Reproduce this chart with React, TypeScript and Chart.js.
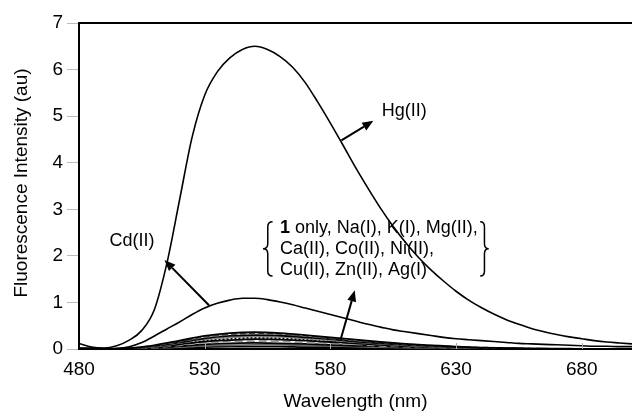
import React, { useEffect, useRef } from 'react';
import { Chart, registerables } from 'chart.js';
Chart.register(...registerables);

// Wavelength grid (nm) for the Hg(II) and Cd(II) spectra
const WAVELENGTHS = [480, 485, 490, 495, 500, 505, 510, 515, 520, 525, 530, 535, 540, 545, 550, 555, 560, 565, 570, 575, 580, 585, 590, 595, 600, 605, 610, 615, 620, 625, 630, 635, 640, 645, 650, 655, 660, 665, 670, 675, 680, 685, 690, 695, 700];
const HG = [0.12, 0.04, 0.02, 0.07, 0.19, 0.4, 0.85, 1.85, 3.2, 4.55, 5.45, 5.95, 6.25, 6.43, 6.5, 6.43, 6.28, 6.05, 5.72, 5.3, 4.85, 4.38, 3.9, 3.45, 3.02, 2.63, 2.28, 1.97, 1.7, 1.46, 1.24, 1.05, 0.89, 0.75, 0.63, 0.53, 0.44, 0.37, 0.31, 0.26, 0.22, 0.18, 0.15, 0.13, 0.11];
const CD = [0.0, 0.0, 0.0, 0.01, 0.05, 0.14, 0.28, 0.43, 0.58, 0.74, 0.88, 0.98, 1.05, 1.09, 1.09, 1.06, 1.01, 0.95, 0.88, 0.81, 0.74, 0.67, 0.6, 0.53, 0.47, 0.41, 0.37, 0.33, 0.29, 0.25, 0.22, 0.2, 0.18, 0.16, 0.14, 0.12, 0.11, 0.1, 0.09, 0.08, 0.07, 0.06, 0.06, 0.05, 0.05];

// Wavelength grid (nm) for the weak spectra (1 only and the other metal ions)
const LOW_WAVELENGTHS = [480, 490, 500, 510, 520, 530, 540, 550, 560, 570, 580, 590, 600, 610, 620, 630, 640, 650, 660, 670, 680, 690, 700];
const ONLY1 = [0.02, 0.01, 0.02, 0.08, 0.18, 0.28, 0.34, 0.36, 0.34, 0.3, 0.25, 0.2, 0.15, 0.11, 0.08, 0.05, 0.03, 0.02, 0.01, 0.01, 0.0, 0.0, 0.0];
const NA = [0.01, 0.0, 0.02, 0.07, 0.16, 0.25, 0.31, 0.33, 0.32, 0.28, 0.23, 0.18, 0.14, 0.1, 0.07, 0.05, 0.03, 0.02, 0.01, 0.0, 0.0, 0.0, 0.0];
const K = [0.01, 0.0, 0.01, 0.06, 0.14, 0.23, 0.28, 0.3, 0.29, 0.25, 0.21, 0.16, 0.12, 0.09, 0.06, 0.04, 0.02, 0.01, 0.01, 0.0, 0.0, 0.0, 0.0];
const MG = [0.0, 0.0, 0.01, 0.05, 0.13, 0.21, 0.25, 0.27, 0.26, 0.23, 0.19, 0.15, 0.11, 0.08, 0.05, 0.03, 0.02, 0.01, 0.0, 0.0, 0.0, 0.0, 0.0];
const CA = [0.0, 0.0, 0.01, 0.05, 0.11, 0.18, 0.22, 0.24, 0.23, 0.2, 0.17, 0.13, 0.1, 0.07, 0.05, 0.03, 0.02, 0.01, 0.0, 0.0, 0.0, 0.0, 0.0];
const CO = [0.0, 0.0, 0.01, 0.04, 0.1, 0.16, 0.19, 0.21, 0.2, 0.18, 0.15, 0.12, 0.09, 0.06, 0.04, 0.03, 0.02, 0.01, 0.0, 0.0, 0.0, 0.0, 0.0];
const NI = [0.0, 0.0, 0.0, 0.03, 0.08, 0.13, 0.16, 0.17, 0.16, 0.14, 0.12, 0.1, 0.07, 0.05, 0.04, 0.02, 0.01, 0.01, 0.0, 0.0, 0.0, 0.0, 0.0];
const CU = [0.0, 0.0, 0.0, 0.02, 0.06, 0.1, 0.12, 0.13, 0.12, 0.11, 0.09, 0.07, 0.06, 0.04, 0.03, 0.02, 0.01, 0.0, 0.0, 0.0, 0.0, 0.0, 0.0];
const ZN = [0.0, 0.0, 0.0, 0.02, 0.04, 0.07, 0.08, 0.09, 0.09, 0.08, 0.07, 0.05, 0.04, 0.03, 0.02, 0.01, 0.01, 0.0, 0.0, 0.0, 0.0, 0.0, 0.0];
const AG = [0.0, 0.0, 0.0, 0.01, 0.02, 0.04, 0.05, 0.05, 0.05, 0.04, 0.04, 0.03, 0.02, 0.02, 0.01, 0.01, 0.0, 0.0, 0.0, 0.0, 0.0, 0.0, 0.0];

const X_TICKS = [480, 530, 580, 630, 680];
const Y_TICKS = [0, 1, 2, 3, 4, 5, 6, 7];

const X_TITLE = 'Wavelength (nm)';
const Y_TITLE = 'Fluorescence Intensity (au)';
const BRACE_LINES = [' only, Na(I), K(I), Mg(II),', 'Ca(II), Co(II), Ni(II),', 'Cu(II), Zn(II), Ag(I)'];

const FONT = '"Liberation Sans", Arial, Helvetica, sans-serif';

function pts(xs: number[], ys: number[]) {
  return xs.map((x, i) => ({ x, y: ys[i] }));
}

function arrow(ctx: CanvasRenderingContext2D, x1: number, y1: number, x2: number, y2: number) {
  const ang = Math.atan2(y2 - y1, x2 - x1);
  const L = 11, W = 4.5;
  const bx = x2 - L * Math.cos(ang), by = y2 - L * Math.sin(ang);
  ctx.beginPath();
  ctx.moveTo(x1, y1);
  ctx.lineTo(bx, by);
  ctx.lineWidth = 2;
  ctx.stroke();
  ctx.beginPath();
  ctx.moveTo(x2, y2);
  ctx.lineTo(bx + W * Math.sin(ang), by - W * Math.cos(ang));
  ctx.lineTo(bx - W * Math.sin(ang), by + W * Math.cos(ang));
  ctx.closePath();
  ctx.fill();
}

function brace(ctx: CanvasRenderingContext2D, xOuter: number, xTip: number, top: number, bottom: number) {
  const xm = (xOuter + xTip) / 2;
  const mid = (top + bottom) / 2;
  const r = 5;
  ctx.beginPath();
  ctx.moveTo(xOuter, top);
  ctx.quadraticCurveTo(xm, top, xm, top + r);
  ctx.lineTo(xm, mid - r);
  ctx.quadraticCurveTo(xm, mid, xTip, mid);
  ctx.quadraticCurveTo(xm, mid, xm, mid + r);
  ctx.lineTo(xm, bottom - r);
  ctx.quadraticCurveTo(xm, bottom, xOuter, bottom);
  ctx.lineWidth = 1.5;
  ctx.stroke();
}

const annotationPlugin = {
  id: 'annots',
  afterDraw(chart: any) {
    const ctx: CanvasRenderingContext2D = chart.ctx;
    const xs = chart.scales.x, ys = chart.scales.y;
    const X = (v: number) => xs.getPixelForValue(v);
    const Y = (v: number) => ys.getPixelForValue(v);
    const area = chart.chartArea;
    ctx.save();
    ctx.strokeStyle = '#000';
    ctx.fillStyle = '#000';
    // top border
    ctx.lineWidth = 2;
    ctx.beginPath();
    ctx.moveTo(area.left, area.top);
    ctx.lineTo(area.right, area.top);
    ctx.stroke();
    // inside x ticks
    ctx.strokeStyle = '#aaa';
    ctx.lineWidth = 1;
    for (const t of X_TICKS.slice(1)) {
      const px = Math.round(X(t)) + 0.5;
      ctx.beginPath();
      ctx.moveTo(px, area.bottom);
      ctx.lineTo(px, area.bottom - 6);
      ctx.stroke();
    }
    ctx.strokeStyle = '#000';
    // axis titles
    ctx.font = `19px ${FONT}`;
    ctx.textAlign = 'center';
    ctx.textBaseline = 'middle';
    ctx.fillText(X_TITLE, (area.left + area.right) / 2, area.bottom + 53);
    ctx.save();
    ctx.translate(area.left - 57, (area.top + area.bottom) / 2 - 3);
    ctx.rotate(-Math.PI / 2);
    ctx.fillText(Y_TITLE, 0, 0);
    ctx.restore();

    // annotations
    ctx.font = `18px ${FONT}`;
    ctx.textAlign = 'left';
    ctx.fillText('Hg(II)', X(600.4), Y(5.1));
    arrow(ctx, X(584.4), Y(4.48), X(597.1), Y(4.9));
    ctx.textAlign = 'center';
    ctx.fillText('Cd(II)', X(501.1), Y(2.31));
    arrow(ctx, X(531.7), Y(0.94), X(514), Y(1.91));
    arrow(ctx, X(584), Y(0.19), X(589.7), Y(1.26));

    ctx.textAlign = 'left';
    const tx = X(560);
    const lineY = [Y(2.6), Y(2.15), Y(1.7)];
    ctx.font = `bold 18px ${FONT}`;
    const w1 = ctx.measureText('1').width;
    ctx.fillText('1', tx, lineY[0]);
    ctx.font = `18px ${FONT}`;
    ctx.fillText(BRACE_LINES[0], tx + w1, lineY[0]);
    ctx.fillText(BRACE_LINES[1], tx, lineY[1]);
    ctx.fillText(BRACE_LINES[2], tx, lineY[2]);
    brace(ctx, X(557), X(553.2), Y(2.73), Y(1.57));
    brace(ctx, X(639.6), X(643), Y(2.73), Y(1.57));
    ctx.restore();
  },
};

export default function App() {
  const ref = useRef<HTMLCanvasElement>(null);
  useEffect(() => {
    const low = [
      { d: ONLY1, c: '#000', dash: [] as number[] },
      { d: NA, c: '#555', dash: [6, 3] },
      { d: K, c: '#000', dash: [] },
      { d: MG, c: '#888', dash: [] },
      { d: CA, c: '#000', dash: [2, 2] },
      { d: CO, c: '#000', dash: [] },
      { d: NI, c: '#999', dash: [8, 4] },
      { d: CU, c: '#000', dash: [] },
      { d: ZN, c: '#666', dash: [] },
      { d: AG, c: '#000', dash: [] },
    ];
    const chart = new Chart(ref.current as HTMLCanvasElement, {
      type: 'line',
      data: {
        datasets: [
          { label: 'Hg(II)', data: pts(WAVELENGTHS, HG), borderColor: '#000', borderWidth: 1.6, pointRadius: 0, cubicInterpolationMode: 'monotone', fill: false },
          { label: 'Cd(II)', data: pts(WAVELENGTHS, CD), borderColor: '#000', borderWidth: 1.6, pointRadius: 0, cubicInterpolationMode: 'monotone', fill: false },
          ...low.map((s, i) => ({
            label: 'low' + i,
            data: pts(LOW_WAVELENGTHS, s.d),
            borderColor: s.c,
            borderDash: s.dash,
            borderWidth: 1.8,
            pointRadius: 0,
            cubicInterpolationMode: 'monotone' as const,
            fill: false,
          })),
        ],
      },
      options: {
        animation: false,
        responsive: false,
        layout: { padding: { top: 23, left: 0, right: 0, bottom: 0 } },
        plugins: { legend: { display: false }, tooltip: { enabled: false } },
        scales: {
          x: {
            type: 'linear',
            min: 480,
            max: 700,
            afterBuildTicks: (s: any) => { s.ticks = X_TICKS.map((v) => ({ value: v })); },
            afterFit: (s: any) => { s.height = 63; },
            grid: { display: true, drawOnChartArea: false, drawTicks: false, tickLength: 0 },
            border: { display: true, color: '#000', width: 2 },
            ticks: { color: '#000', padding: 9, font: { family: FONT, size: 19 }, maxRotation: 0 },
          },
          y: {
            type: 'linear',
            min: 0,
            max: 7,
            afterBuildTicks: (s: any) => { s.ticks = Y_TICKS.map((v) => ({ value: v })); },
            afterFit: (s: any) => { s.width = 79; },
            grid: { display: true, drawOnChartArea: false, drawTicks: true, tickLength: 12, color: '#bbb' },
            border: { display: true, color: '#000', width: 2 },
            ticks: { color: '#000', padding: 4, font: { family: FONT, size: 19 } },
          },
        },
      },
      plugins: [annotationPlugin],
    } as any);
    return () => chart.destroy();
  }, []);
  return (
    <div style={{ position: 'fixed', left: 0, top: 0, width: 632, height: 412, background: '#fff' }}>
      <canvas ref={ref} width={632} height={412} style={{ width: 632, height: 412, display: 'block' }} />
    </div>
  );
}
